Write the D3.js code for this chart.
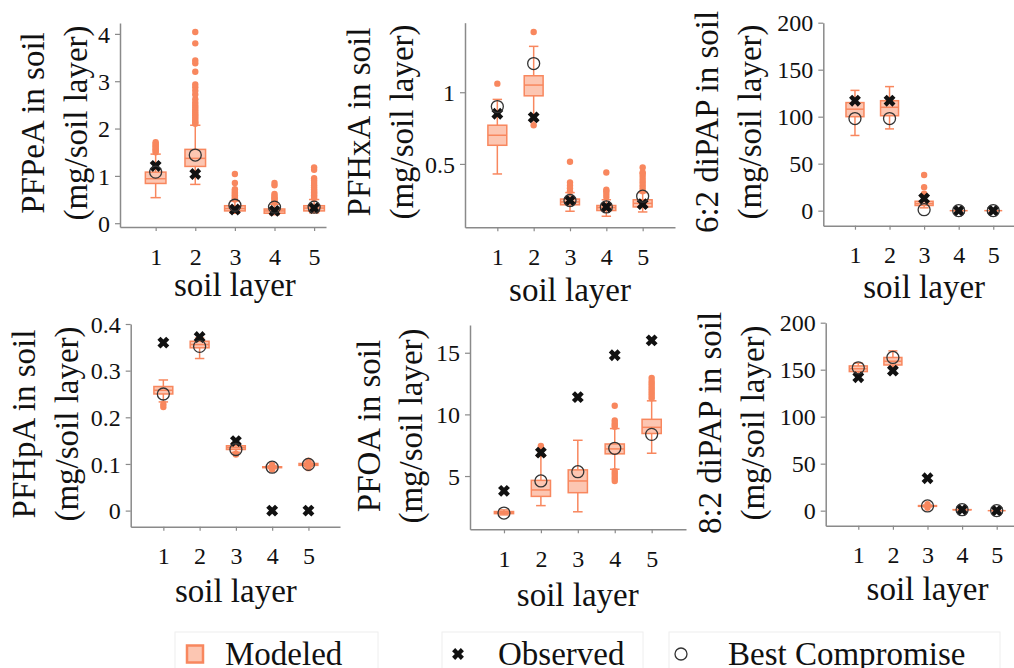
<!DOCTYPE html>
<html><head><meta charset="utf-8">
<script src="https://cdn.jsdelivr.net/npm/d3@7"></script>
<style>
body{margin:0;background:#fff}
svg{display:block}
text{font-family:"Liberation Serif","Times New Roman",serif;fill:#111}
</style>
</head><body>
<svg id="chart" width="1014" height="668"></svg>
<script>
// ---------------- DATA ----------------
const layers = [1, 2, 3, 4, 5];
const xLabel = "soil layer";
const unitLabel = "(mg/soil layer)";
const legendLabels = ["Modeled", "Observed", "Best Compromise"];

// box statistics per soil layer: [whiskerLow, q1, median, q3, whiskerHigh]
const pfpeaStats = [[0.54,0.84,0.94,1.08,1.46],[0.82,1.20,1.37,1.56,2.07],[0.21,0.26,0.31,0.37,0.47],[0.18,0.21,0.26,0.30,0.40],[0.22,0.26,0.32,0.37,0.50]];
const pfpeaOut = [[1.50,1.53,1.56,1.59,1.62,1.65,1.68,1.71],
  [2.10,2.13,2.16,2.20,2.24,2.28,2.32,2.36,2.40,2.45,2.50,2.55,2.62,2.72,2.80,2.87,2.93,3.20,3.38,3.44,3.80,4.04],
  [0.50,0.53,0.56,0.59,0.62,0.65,0.68,0.72,0.85,1.04],
  [0.43,0.46,0.49,0.52,0.55,0.58,0.62,0.80,0.85],
  [0.53,0.56,0.59,0.62,0.65,0.68,0.72,0.76,0.80,0.85,0.90,0.95,1.13,1.18]];
const pfpeaObs = [1.21,1.04,0.29,0.26,0.32];
const pfpeaBest = [1.08,1.44,0.38,0.34,0.34];
const pfpeaTicks = [0,1,2,3,4];

const pfhxaStats = [[0.43,0.63,0.70,0.77,0.95],[0.80,0.975,1.05,1.115,1.32],[0.17,0.215,0.235,0.255,0.30],[0.135,0.175,0.195,0.21,0.25],[0.165,0.20,0.225,0.25,0.30]];
const pfhxaOut = [[1.06],[0.77,1.42],[0.31,0.33,0.35,0.37,0.515],[0.27,0.29,0.31,0.32,0.44],[0.31,0.33,0.35,0.37,0.39,0.41,0.43,0.44,0.475]];
const pfhxaObs = [0.85,0.825,0.245,0.20,0.22];
const pfhxaBest = [0.90,1.20,0.245,0.20,0.275];
const pfhxaTicks = [0.5,1];

const dipap62Stats = [[80,100,108,115,128],[87,101,110,117,132],[3,5.5,7.5,10,15],[0,0,0,0,0],[0,0,0,0,0]];
const dipap62Out = [[],[],[18,25,38],[],[]];
const dipap62Obs = [117,117,13,0,0];
const dipap62Best = [98,98,1,0,0];
const dipap62Ticks = [0,50,100,150,200];

const pfhpaStats = [[0.233,0.25,0.258,0.266,0.28],[0.326,0.349,0.356,0.363,0.37],[0.125,0.131,0.135,0.139,0.145],[0.09,0.092,0.093,0.094,0.096],[0.094,0.097,0.099,0.101,0.104]];
const pfhpaOut = [[0.222,0.228],[],[0.12,0.122],[0.088,0.098],[0.091,0.107]];
const pfhpaObs = [0.36,0.372,0.149,0,0];
const pfhpaBest = [0.25,0.352,0.131,0.093,0.099];
const pfhpaTicks = [0,0.1,0.2,0.3,0.4];

const pfoaStats = [[1.85,1.95,2.02,2.12,2.25],[2.6,3.35,3.87,4.65,6.6],[2.1,3.65,4.6,5.5,7.9],[5.55,6.8,7.2,7.6,8.85],[6.85,8.45,8.95,9.6,11.1]];
const pfoaOut = [[],[6.85,7.0,7.15,7.3,7.45],[],[4.6,4.8,5.0,5.2,5.4,9.0,9.15,9.3,9.5,10.7],[11.3,11.5,11.7,11.9,12.1,12.3,12.5,12.7,12.95]];
const pfoaObs = [3.8,6.9,11.4,14.8,16.0];
const pfoaBest = [2.0,4.6,5.35,7.25,8.38];
const pfoaTicks = [5,10,15];

const dipap82Stats = [[146,148,151,154,157],[153,155,159,163,170],[4,4.6,5,5.4,6],[0.7,0.9,1,1.1,1.3],[0,0,0,0,0]];
const dipap82Out = [[],[],[3,7],[],[]];
const dipap82Obs = [142,149,34.5,1,0];
const dipap82Best = [152,163,5,1,0];
const dipap82Ticks = [0,50,100,150,200];

const compounds = [
  {name:"PFPeA in soil", stats:pfpeaStats, out:pfpeaOut, obs:pfpeaObs, best:pfpeaBest, ticks:pfpeaTicks},
  {name:"PFHxA in soil", stats:pfhxaStats, out:pfhxaOut, obs:pfhxaObs, best:pfhxaBest, ticks:pfhxaTicks},
  {name:"6:2 diPAP in soil", stats:dipap62Stats, out:dipap62Out, obs:dipap62Obs, best:dipap62Best, ticks:dipap62Ticks},
  {name:"PFHpA in soil", stats:pfhpaStats, out:pfhpaOut, obs:pfhpaObs, best:pfhpaBest, ticks:pfhpaTicks},
  {name:"PFOA in soil", stats:pfoaStats, out:pfoaOut, obs:pfoaObs, best:pfoaBest, ticks:pfoaTicks},
  {name:"8:2 diPAP in soil", stats:dipap82Stats, out:dipap82Out, obs:dipap82Obs, best:dipap82Best, ticks:dipap82Ticks}
];

// ---------------- LAYOUT ----------------
const frames = [
  {x0:120,  x1:326,  y0:23,    y1:227,   xd:[0.1,5.3],   yd:[-0.08,4.23],  t1:43.5, t2:87,   tc:123, xl:296},
  {x0:465,  x1:675,  y0:22.7,  y1:227.3, xd:[0.11,5.89], yd:[0.058,1.485], t1:370,  t2:413,  tc:122, xl:301},
  {x0:823.3,x1:1014, y0:22.7,  y1:225.7, xd:[0.084,5.6], yd:[-16,200],     t1:718,  t2:761,  tc:122, xl:298},
  {x0:130.7,x1:340,  y0:324,   y1:526.7, xd:[0.1,5.87],  yd:[-0.0345,0.4], t1:35,   t2:78,   tc:424, xl:602},
  {x0:470,  x1:686,  y0:325,   y1:529.3, xd:[0.08,5.93], yd:[0.68,17.25],  t1:380,  t2:422,  tc:426, xl:606},
  {x0:825.7,x1:1014, y0:322.7, y1:525.7, xd:[0.058,5.5], yd:[-16,200],     t1:721,  t2:764,  tc:423, xl:600}
];

const C_FILL = "#fcc6b2", C_LINE = "#f8875e", C_AXIS = "#8a8a8a";
const FS_TITLE = "33px", FS_TICK = "24px";
const svg = d3.select("#chart");
const fmt = d3.format("~g");

// X marker polygon (bold cross)
function xMarkerPath(a, t){
  const pts = [[t,a],[t,t],[a,t],[a,-t],[t,-t],[t,-a],[-t,-a],[-t,-t],[-a,-t],[-a,t],[-t,t],[-t,a]];
  const c = Math.SQRT1_2;
  return "M" + pts.map(([x,y]) => [(x - y)*c, (x + y)*c].map(v=>v.toFixed(2)).join(",")).join("L") + "Z";
}
const xPath = xMarkerPath(6.2, 2.2);

compounds.forEach((cp, i) => {
  const f = frames[i];
  const x = d3.scaleLinear().domain(f.xd).range([f.x0, f.x1]);
  const y = d3.scaleLinear().domain(f.yd).range([f.y1, f.y0]);
  const g = svg.append("g");
  const step = x(2) - x(1);
  const bw = step * 0.52, cw = bw * 0.5;

  // axes
  const yAxis = g.append("g").attr("transform", `translate(${f.x0},0)`)
    .call(d3.axisLeft(y).tickValues(cp.ticks).tickFormat(fmt).tickSize(5).tickPadding(5).tickSizeOuter(0));
  const xAxis = g.append("g").attr("transform", `translate(0,${f.y1})`)
    .call(d3.axisBottom(x).tickValues(layers).tickFormat(d3.format("d")).tickSize(4).tickPadding(20).tickSizeOuter(0));
  [yAxis, xAxis].forEach(a => {
    a.select(".domain").attr("stroke", C_AXIS).attr("stroke-width", 1.5);
    a.selectAll(".tick line").attr("stroke", C_AXIS).attr("stroke-width", 1.2);
    a.selectAll(".tick text").attr("fill", "#111").style("font-family", '"Liberation Serif",serif').style("font-size", FS_TICK);
  });
  xAxis.selectAll(".tick text").attr("dy", null).attr("y", 37.5).attr("dominant-baseline", "auto");
  yAxis.selectAll(".tick text").attr("dy", "0.34em");

  // axis titles
  g.append("text").attr("x", x(3)).attr("y", f.xl).attr("text-anchor", "middle")
    .style("font-size", FS_TITLE).text(xLabel);
  g.append("text").attr("transform", `translate(${f.t1},${f.tc}) rotate(-90)`).attr("text-anchor", "middle")
    .style("font-size", FS_TITLE).text(cp.name);
  g.append("text").attr("transform", `translate(${f.t2},${f.tc}) rotate(-90)`).attr("text-anchor", "middle")
    .style("font-size", FS_TITLE).text(unitLabel);

  // boxes
  layers.forEach((L, k) => {
    const [lo, q1, med, q3, hi] = cp.stats[k];
    const cx = x(L);
    const bg = g.append("g");
    bg.append("line").attr("x1", cx).attr("x2", cx).attr("y1", y(lo)).attr("y2", y(q1)).attr("stroke", C_LINE).attr("stroke-width", 1.5);
    bg.append("line").attr("x1", cx).attr("x2", cx).attr("y1", y(q3)).attr("y2", y(hi)).attr("stroke", C_LINE).attr("stroke-width", 1.5);
    [lo, hi].forEach(v => bg.append("line").attr("x1", cx - cw/2).attr("x2", cx + cw/2).attr("y1", y(v)).attr("y2", y(v)).attr("stroke", C_LINE).attr("stroke-width", 1.5));
    bg.append("rect").attr("x", cx - bw/2).attr("width", bw).attr("y", y(q3)).attr("height", Math.max(0, y(q1) - y(q3)))
      .attr("fill", C_FILL).attr("stroke", C_LINE).attr("stroke-width", 1.5);
    bg.append("line").attr("x1", cx - bw/2).attr("x2", cx + bw/2).attr("y1", y(med)).attr("y2", y(med)).attr("stroke", C_LINE).attr("stroke-width", 1.5);
    cp.out[k].forEach(v => bg.append("circle").attr("cx", cx).attr("cy", y(v)).attr("r", 3.2).attr("fill", C_LINE));
  });
  // observed
  g.selectAll(".obs").data(cp.obs).join("path").attr("class", "obs")
    .attr("transform", (d, k) => `translate(${x(layers[k])},${y(d)})`).attr("d", xPath).attr("fill", "#111");
  // best compromise
  g.selectAll(".best").data(cp.best).join("circle").attr("class", "best")
    .attr("cx", (d, k) => x(layers[k])).attr("cy", d => y(d)).attr("r", 6)
    .attr("fill", "none").attr("stroke", "#333").attr("stroke-width", 1.3);
});

// ---------------- LEGEND ----------------
const lg = svg.append("g");
[[175,378],[442,643],[669,1000]].forEach(([a,b]) =>
  lg.append("rect").attr("x", a).attr("y", 632).attr("width", b - a).attr("height", 60)
    .attr("fill", "none").attr("stroke", "#eeeeee").attr("stroke-width", 1));
lg.append("rect").attr("x", 187).attr("y", 645.5).attr("width", 16).attr("height", 17)
  .attr("fill", C_FILL).attr("stroke", C_LINE).attr("stroke-width", 2.5);
lg.append("path").attr("transform", "translate(458,654)").attr("d", xPath).attr("fill", "#111");
lg.append("circle").attr("cx", 681).attr("cy", 654).attr("r", 6).attr("fill", "none").attr("stroke", "#333").attr("stroke-width", 1.3);
[[225, legendLabels[0]], [498, legendLabels[1]], [728, legendLabels[2]]].forEach(([lx, t]) =>
  lg.append("text").attr("x", lx).attr("y", 665).style("font-size", FS_TITLE).text(t));
</script>
</body></html>
